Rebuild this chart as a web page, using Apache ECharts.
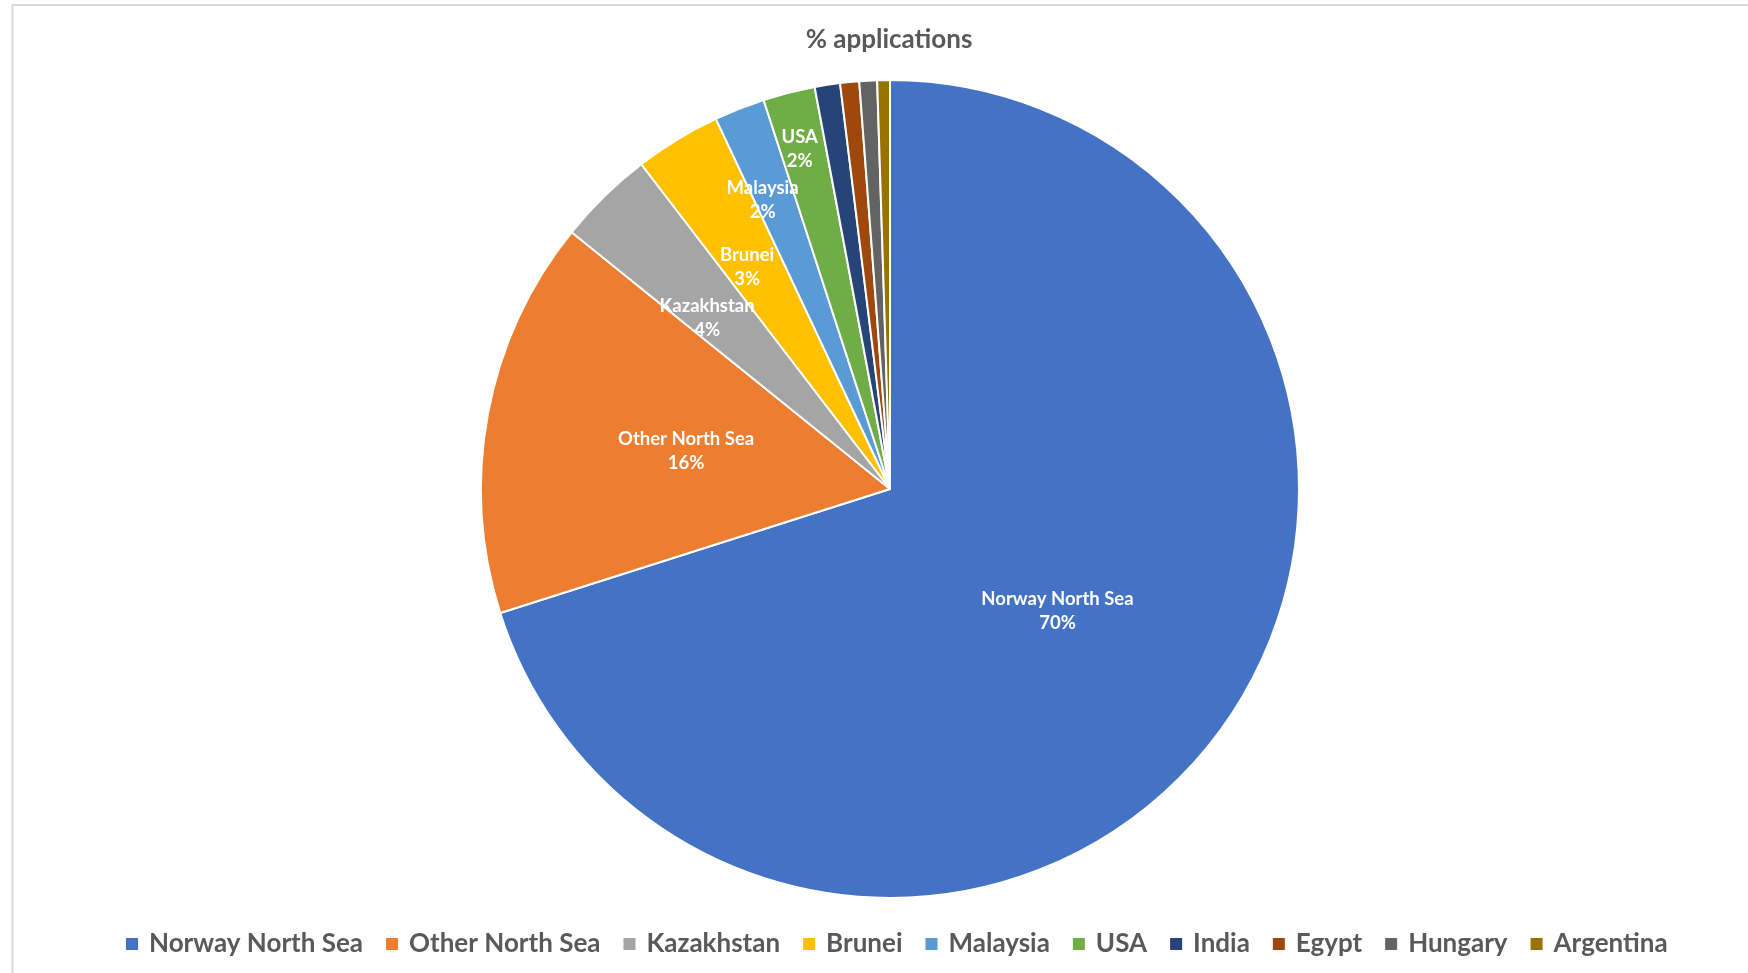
<!DOCTYPE html>
<html>
<head>
<meta charset="utf-8">
<script src="https://cdn.jsdelivr.net/npm/echarts@6/dist/echarts.min.js"></script>
<style>
html,body{margin:0;padding:0;background:#fff;}
#main{width:1748px;height:973px;}
</style>
</head>
<body>
<div id="main"></div>
<script>
const categories = ['Norway North Sea','Other North Sea','Kazakhstan','Brunei','Malaysia','USA','India','Egypt','Hungary','Argentina'];
const values = [70.1, 15.7, 3.8, 3.4, 2.0, 2.05, 1.0, 0.75, 0.7, 0.5];
const colors = ['#4472C4','#ED7D31','#A5A5A5','#FFC000','#5B9BD5','#70AD47','#264478','#9E480E','#636363','#997300'];
const showLabel = [true,true,true,true,true,true,false,false,false,false];
const labelOffsets = [[0,0],[0,0],[-38,-22],[-35,-45],[-51,-96],[-39,-139],[0,0],[0,0],[0,0],[0,0]];

const FONT = 'Lato, "Open Sans", "Noto Sans", sans-serif';
const chart = echarts.init(document.getElementById('main'));
const data = categories.map((c,i)=>({
  name:c, value:values[i],
  itemStyle:{color:colors[i]},
  label:{show:showLabel[i], offset:labelOffsets[i]}
}));
chart.setOption({
  animation:false,
  backgroundColor:'#fff',
  title:{
    text:'% applications', left:884, top:22, textAlign:'center',
    textStyle:{fontFamily:FONT, fontSize:26, fontWeight:'bold', color:'#595959'}
  },
  legend:{
    bottom:11, left:119, icon:'rect', itemWidth:14, itemHeight:14, itemGap:21,
    textStyle:{fontFamily:FONT, fontSize:26, fontWeight:'bold', color:'#595959', padding:[0,0,0,5]},
    data:categories
  },
  graphic:[
    {type:'line', shape:{x1:12.5,y1:5,x2:12.5,y2:973}, style:{stroke:'#d9d9d9', lineWidth:2}, silent:true},
    {type:'line', shape:{x1:12,y1:5,x2:1748,y2:5}, style:{stroke:'#d9d9d9', lineWidth:2}, silent:true}
  ],
  series:[{
    type:'pie',
    center:[890,489], radius:[0,409],
    startAngle:90, clockwise:true,
    percentPrecision:0,
    avoidLabelOverlap:false,
    itemStyle:{borderColor:'#fff', borderWidth:2},
    label:{
      position:'inside', formatter:'{b}\n{d}%',
      fontFamily:FONT, fontSize:18.5, fontWeight:'bold', color:'#fff', lineHeight:24
    },
    labelLine:{show:false},
    emphasis:{disabled:true},
    data:data
  }]
});
</script>
</body>
</html>
